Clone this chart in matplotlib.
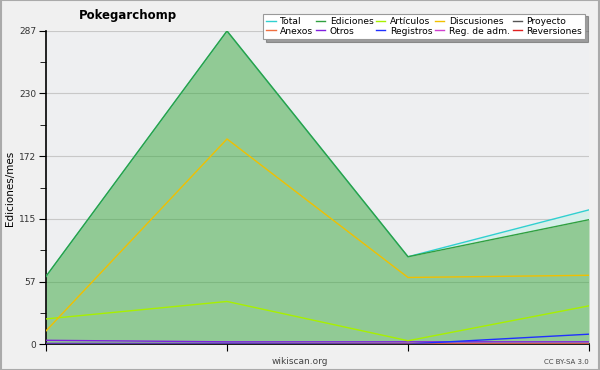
import matplotlib
matplotlib.use("Agg")
import matplotlib.pyplot as plt
from matplotlib.ticker import FixedLocator

x = [0, 1, 2, 3]
total = [62, 287, 80, 123]
ediciones = [62, 287, 80, 114]
articulos = [23, 39, 3, 35]
discusiones = [12, 188, 61, 63]
proyecto = [0, 0, 0, 0]
anexos = [0.5, 0.5, 0.5, 0.5]
otros = [3.4, 2, 2, 2]
registros = [0.5, 0.5, 0, 9]
reg_adm = [0, 0, 0, 0]
reversiones = [0, 0, 0, 0]
yticks = [0, 57, 115, 172, 230, 287]

fig = plt.figure(figsize=(6, 3.7), dpi=100, facecolor="#f0f0f0")
ax = fig.add_axes([46/600, 26/370, 543/600, 313/370])
ax.set_facecolor("#eeeff1")

ax.grid(axis="y", color="#c8c8c8", lw=0.8, zorder=0)
ax.fill_between(x, ediciones, total, color="#d6efea", lw=0, zorder=1)
ax.fill_between(x, 0, ediciones, color=(54/255, 167/255, 59/255), alpha=0.5, lw=0, zorder=2)

series = [
    ("Total", total, "#30d0d0"),
    ("Anexos", anexos, "#f07040"),
    ("Ediciones", ediciones, "#30a040"),
    ("Otros", otros, "#8020e0"),
    ("Artículos", articulos, "#a8f000"),
    ("Registros", registros, "#2030ff"),
    ("Discusiones", discusiones, "#f0c000"),
    ("Reg. de adm.", reg_adm, "#d040d0"),
    ("Proyecto", proyecto, "#555555"),
    ("Reversiones", reversiones, "#e02020"),
]
handles = []
for name, vals, col in series:
    h, = ax.plot(x, vals, color=col, lw=1.0, zorder=3, label=name)
    handles.append(h)

ax.set_xlim(0, 3)
ax.set_ylim(0, 287)
ax.set_yticks(yticks)
ax.yaxis.set_minor_locator(FixedLocator([28.5, 86, 143.5, 201, 258.5]))
ax.set_xticks(x)
ax.set_xticklabels([])
ax.tick_params(axis="y", labelsize=6.5, length=5, color="black", labelcolor="#333333", pad=2)
ax.tick_params(axis="y", which="minor", length=4)
ax.tick_params(axis="x", length=5, direction="out")
for s in ["top", "right"]:
    ax.spines[s].set_visible(False)
ax.spines["left"].set_linewidth(1.2)
ax.spines["bottom"].set_linewidth(1.2)
ax.set_axisbelow(True)

fig.text(10/600, 1 - 188/370, "Ediciones/mes", fontsize=7.5, rotation=90,
         ha="center", va="center")
fig.text(128/600, 1 - 15/370, "Pokegarchomp", fontsize=8.5, fontweight="bold",
         ha="center", va="center")
fig.text(300/600, 1 - 361/370, "wikiscan.org", fontsize=6.5, color="#444444",
         ha="center", va="center")
fig.text(589/600, 1 - 362/370, "CC BY-SA 3.0", fontsize=5, color="#444444",
         ha="right", va="center")

leg = fig.legend(handles=handles, ncol=5, loc="upper right",
                 bbox_to_anchor=(590/600, 1 - 9/370), fontsize=6.6,
                 frameon=True, fancybox=False, shadow=True, handlelength=1.0,
                 handletextpad=0.5, columnspacing=0.3, labelspacing=0.1,
                 borderpad=0.35)
leg.get_frame().set_edgecolor("#999999")
leg.get_frame().set_linewidth(0.8)

fig.patches.append(plt.Rectangle((0.001, 0.001), 0.998, 0.998, transform=fig.transFigure,
                                 fill=False, edgecolor="#aaaaaa", lw=1.5))

fig.savefig("out.png", dpi=100, facecolor=fig.get_facecolor())
